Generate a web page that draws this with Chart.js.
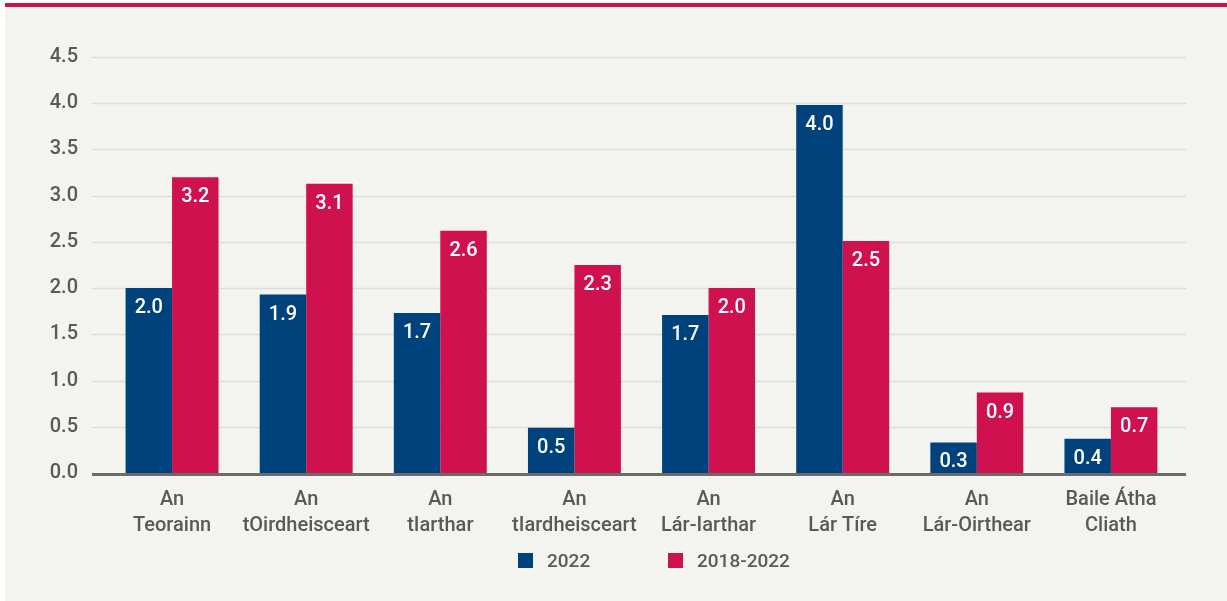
<!DOCTYPE html>
<html>
<head>
<meta charset="utf-8">
<script src="https://cdn.jsdelivr.net/npm/chart.js@4.4.0/dist/chart.umd.min.js"></script>
<style>
    html, body { margin: 0; padding: 0; background: #ffffff; }
    #panel {
        position: absolute;
        left: 5px;
        top: 3px;
        width: 1222px;
        height: 598px;
        background: #f3f3ef;
        border-top: 4px solid #d0114f;
        box-sizing: border-box;
    }
    #chartWrap { position: absolute; left: 0; top: 0; width: 1222px; height: 594px; }
    #legend {
        position: absolute;
        top: 539px;
        left: 0;
        width: 1222px;
        font-family: Roboto, sans-serif;
        font-weight: 500;
        font-size: 19px;
        color: #5a5a5a;
    }
    .item { position: absolute; top: 0; height: 30px; line-height: 30px; white-space: nowrap; }
    .swatch { display: inline-block; width: 15px; height: 15px; vertical-align: -1px; margin-right: 14px; }
</style>
</head>
<body>
<div id="panel">
    <div id="chartWrap"><canvas id="regionChart"></canvas></div>
    <div id="legend"></div>
</div>
<script>
const regions = [
    ['An', 'Teorainn'],
    ['An', 'tOirdheisceart'],
    ['An', 'tIarthar'],
    ['An', 'tIardheisceart'],
    ['An', 'Lár-Iarthar'],
    ['An', 'Lár Tíre'],
    ['An', 'Lár-Oirthear'],
    ['Baile Átha', 'Cliath']
];
const values2022 = [2.0, 1.93, 1.73, 0.49, 1.71, 3.98, 0.33, 0.37];
const values2018to2022 = [3.2, 3.13, 2.62, 2.25, 2.0, 2.51, 0.87, 0.71];
const seriesNames = ['2022', '2018-2022'];
const yTicks = [0, 0.5, 1.0, 1.5, 2.0, 2.5, 3.0, 3.5, 4.0, 4.5];

const BLUE = '#00427b';
const CRIMSON = '#d0114f';
const TEXT = '#595959';
const FONT = 'Roboto, sans-serif';

// horizontal guides run a little wider than the bar area
const gridLines = {
    id: 'gridLines',
    beforeDatasetsDraw(chart) {
        const { ctx, chartArea, scales } = chart;
        ctx.save();
        ctx.strokeStyle = '#dddddb';
        ctx.lineWidth = 1.5;
        scales.y.ticks.forEach(t => {
            if (t.value === 0) return;
            const y = Math.round(scales.y.getPixelForValue(t.value)) + 0.5;
            ctx.beginPath();
            ctx.moveTo(chartArea.left - 13, y);
            ctx.lineTo(chartArea.right + 8, y);
            ctx.stroke();
        });
        ctx.restore();
    },
    afterDatasetsDraw(chart) {
        const { ctx, chartArea, scales } = chart;
        const y = scales.y.getPixelForValue(0) + 1.5;
        ctx.save();
        ctx.strokeStyle = '#6b6b69';
        ctx.lineWidth = 3;
        ctx.beginPath();
        ctx.moveTo(chartArea.left - 13, y);
        ctx.lineTo(chartArea.right + 8, y);
        ctx.stroke();
        ctx.restore();
    }
};

// value printed inside the top of each bar
const barLabels = {
    id: 'barLabels',
    afterDatasetsDraw(chart) {
        const { ctx } = chart;
        ctx.save();
        ctx.fillStyle = '#ffffff';
        ctx.font = '500 20px ' + FONT;
        ctx.textAlign = 'center';
        ctx.textBaseline = 'middle';
        chart.data.datasets.forEach((ds, i) => {
            chart.getDatasetMeta(i).data.forEach((bar, j) => {
                ctx.fillText(ds.data[j].toFixed(1), bar.x, bar.y + 20);
            });
        });
        ctx.restore();
    }
};

const colors = [BLUE, CRIMSON];

new Chart(document.getElementById('regionChart'), {
    type: 'bar',
    data: {
        labels: regions,
        datasets: [
            { label: seriesNames[0], data: values2022, backgroundColor: BLUE },
            { label: seriesNames[1], data: values2018to2022, backgroundColor: CRIMSON }
        ].map(ds => Object.assign(ds, {
            borderWidth: 0,
            barPercentage: 1,
            categoryPercentage: 0.693
        }))
    },
    options: {
        responsive: true,
        maintainAspectRatio: false,
        animation: false,
        layout: { padding: { left: 0, right: 49, top: 50, bottom: 0 } },
        plugins: {
            legend: { display: false },
            tooltip: { enabled: false }
        },
        scales: {
            x: {
                grid: { display: false, drawTicks: false },
                border: { display: false },
                ticks: {
                    color: TEXT,
                    padding: 14,
                    maxRotation: 0,
                    autoSkip: false,
                    font: { family: FONT, size: 20, weight: '500', lineHeight: 1.3 }
                },
                afterFit(scale) { scale.height = 128; }
            },
            y: {
                min: 0,
                max: 4.5,
                afterBuildTicks(scale) {
                    scale.ticks = yTicks.map(v => ({ value: v }));
                },
                grid: { display: false, drawTicks: false },
                border: { display: false },
                ticks: {
                    color: TEXT,
                    padding: 27,
                    font: { family: FONT, size: 20, weight: '500' },
                    callback: v => v.toFixed(1)
                },
                afterFit(scale) { scale.width = 100; }
            }
        }
    },
    plugins: [gridLines, barLabels]
});

// legend drawn as HTML under the plot
const legend = document.getElementById('legend');
const legendLeft = [513, 663];
seriesNames.forEach((name, i) => {
    legend.insertAdjacentHTML('beforeend',
        `<div class="item" style="left:${legendLeft[i]}px"><span class="swatch" style="background:${colors[i]}"></span>${name}</div>`);
});
</script>
</body>
</html>
